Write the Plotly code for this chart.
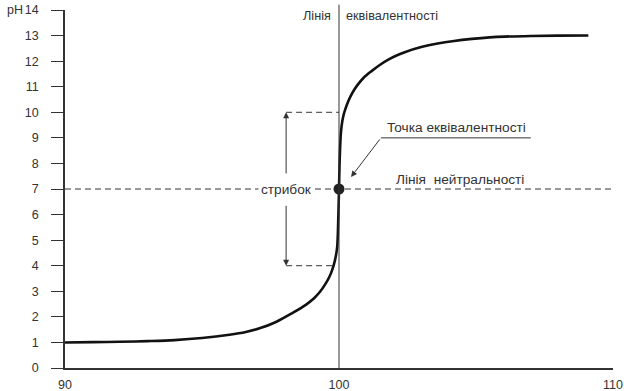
import plotly.graph_objects as go

# Titration curve
volume = [90, 91, 92, 93, 94, 95, 96, 96.6, 97.1, 97.7, 98.3, 98.8, 99.1, 99.3, 99.5, 99.65, 99.75, 99.85,
          99.93, 99.97, 100.0, 100.03, 100.07, 100.12, 100.18, 100.24, 100.32, 100.42, 100.55, 100.7,
          100.9, 101.2, 101.5, 101.8, 102.1, 102.4, 103.0, 103.6, 104.2, 104.85, 105.5, 106.06, 107.0,
          108.0, 109.1]
ph = [1.0, 1.01, 1.025, 1.05, 1.09, 1.17, 1.3, 1.41, 1.55, 1.8, 2.15, 2.48, 2.74, 2.97, 3.28, 3.57, 3.83, 4.2,
      4.7, 5.7, 7.0, 8.3, 9.2, 9.65, 9.95, 10.15, 10.38, 10.62, 10.87, 11.1,
      11.35, 11.62, 11.86, 12.06, 12.22, 12.35, 12.55, 12.69, 12.79, 12.87, 12.93, 12.96, 12.985,
      12.997, 13.0]

x_ticks = [90, 100, 110]
y_ticks = list(range(0, 15))

eq_x, eq_ph = 100, 7
jump_x = 98.07
jump_low, jump_high = 4, 10
neutral_ph = 7

TXT = "#333333"
FONT = "Liberation Sans, Arial, sans-serif"
ANN_SIZE = 13.7

fig = go.Figure()

# neutral line
fig.add_trace(go.Scatter(x=[90, 110], y=[neutral_ph, neutral_ph], mode="lines",
                         line=dict(color="#333333", width=1, dash="6px,4px"), hoverinfo="skip"))
# jump dashed lines
fig.add_trace(go.Scatter(x=[jump_x, 100.0], y=[jump_high, jump_high], mode="lines",
                         line=dict(color="#333333", width=1, dash="6px,4px"), hoverinfo="skip"))
fig.add_trace(go.Scatter(x=[jump_x, 99.82], y=[jump_low, jump_low], mode="lines",
                         line=dict(color="#333333", width=1, dash="6px,4px"), hoverinfo="skip"))
# curve
fig.add_trace(go.Scatter(x=volume, y=ph, mode="lines",
                         line=dict(color="#111111", width=2.6, shape="spline", smoothing=1.0),
                         hoverinfo="skip"))
# equivalence point
fig.add_trace(go.Scatter(x=[eq_x], y=[eq_ph], mode="markers",
                         marker=dict(color="#222222", size=11), hoverinfo="skip"))

# equivalence line
fig.add_shape(type="line", xref="x", yref="paper", x0=eq_x, x1=eq_x, y0=0, y1=1.015,
              line=dict(color="#333333", width=1))
# underline for "Точка еквівалентності"
fig.add_shape(type="line", xref="x", yref="y", x0=101.53, x1=107.0, y0=9.0, y1=9.0,
              line=dict(color="#333333", width=1))

ann = []
# jump arrows
ann.append(dict(x=jump_x, y=jump_high, ax=jump_x, ay=7.55, xref="x", yref="y", axref="x", ayref="y",
                text="", showarrow=True, arrowhead=2, arrowsize=1.2, arrowwidth=1, arrowcolor="#333333"))
ann.append(dict(x=jump_x, y=jump_low, ax=jump_x, ay=6.4, xref="x", yref="y", axref="x", ayref="y",
                text="", showarrow=True, arrowhead=2, arrowsize=1.2, arrowwidth=1, arrowcolor="#333333"))
# arrow to equivalence point
ann.append(dict(x=100.44, y=7.47, ax=101.53, ay=9.0, xref="x", yref="y", axref="x", ayref="y",
                text="", showarrow=True, arrowhead=2, arrowsize=1.2, arrowwidth=1, arrowcolor="#333333"))
# texts
ann.append(dict(x=98.1, y=neutral_ph, xref="x", yref="y", text="стрибок", showarrow=False,
                bgcolor="white", font=dict(size=ANN_SIZE, color=TXT, family=FONT), borderpad=2))
ann.append(dict(x=104.3, y=9.42, xref="x", yref="y", text="Точка еквівалентності", showarrow=False,
                font=dict(size=ANN_SIZE, color=TXT, family=FONT)))
ann.append(dict(x=104.4, y=7.38, xref="x", yref="y", text="Лінія  нейтральності", showarrow=False,
                font=dict(size=ANN_SIZE, color=TXT, family=FONT)))
ann.append(dict(x=eq_x, y=13.77, xref="x", yref="y", text="Лінія", showarrow=False, xanchor="right",
                xshift=-6, font=dict(size=12.7, color=TXT, family=FONT)))
ann.append(dict(x=eq_x, y=13.77, xref="x", yref="y", text="еквівалентності", showarrow=False,
                xanchor="left", xshift=5, font=dict(size=12.7, color=TXT, family=FONT)))
ann.append(dict(x=-0.11, y=14, xref="paper", yref="y", text="pH", showarrow=False, xanchor="left",
                font=dict(size=12.5, color=TXT, family=FONT)))
fig.update_layout(annotations=ann)

fig.update_layout(
    width=624, height=391,
    margin=dict(l=65, r=11, t=10, b=23, autoexpand=False),
    paper_bgcolor="white", plot_bgcolor="white",
    showlegend=False,
    font=dict(family=FONT, size=12, color=TXT),
    xaxis=dict(range=[90, 110], tickvals=x_ticks, ticktext=[str(v) for v in x_ticks], automargin=False,
               showgrid=False, zeroline=False, showline=True, linecolor="#333333", linewidth=1.5,
               ticks="", ticklabelstandoff=4, tickfont=dict(size=12.5, color=TXT)),
    yaxis=dict(range=[0, 14], tickvals=y_ticks, showgrid=False, zeroline=False, showline=True, automargin=False,
               linecolor="#333333", linewidth=1.5, ticks="outside", ticklen=12, tickwidth=1,
               tickcolor="#333333", ticklabelstandoff=10, tickfont=dict(size=12.5, color=TXT)),
)

fig.write_html("out.html")
